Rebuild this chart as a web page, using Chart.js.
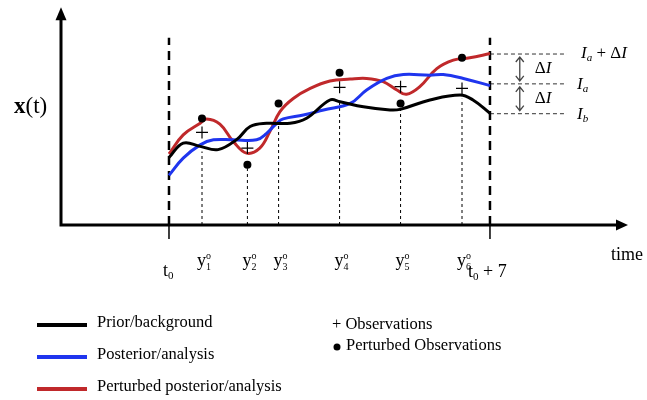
<!DOCTYPE html>
<html>
<head>
<meta charset="utf-8">
<script src="https://cdn.jsdelivr.net/npm/chart.js@4.4.1/dist/chart.umd.min.js"></script>
<style>
  body { margin: 0; background: #fff; }
  canvas { display: block; }
</style>
</head>
<body>
<canvas id="chart" width="647" height="400"></canvas>
<script>
// time is in steps of the window (t0 = 0, t0 + 7 = 7), state x(t) in arbitrary units
const priorT = [0, 0.31, 0.68, 1.07, 1.48, 1.77, 2.13, 2.64, 3.00, 3.51, 3.73, 4.24, 4.82, 5.04, 5.69, 6.35, 6.63, 7];
const priorX = [3.10, 3.76, 3.61, 3.46, 3.93, 4.52, 4.67, 4.67, 4.90, 5.74, 5.66, 5.43, 5.28, 5.31, 5.74, 5.97, 5.74, 5.13];

const postT = [0, 0.31, 0.68, 0.97, 1.40, 1.91, 2.13, 2.35, 2.49, 2.93, 3.37, 3.95, 4.31, 4.75, 5.11, 5.69, 5.98, 6.42, 7];
const postX = [2.28, 3.07, 3.68, 3.91, 3.91, 3.91, 4.21, 4.67, 4.87, 5.05, 5.28, 5.58, 6.20, 6.73, 6.91, 6.88, 6.91, 6.73, 6.40];

const pertT = [0, 0.31, 0.68, 0.82, 1.11, 1.40, 1.69, 1.98, 2.20, 2.42, 2.71, 3.08, 3.51, 3.95, 4.31, 4.67, 4.97, 5.18, 5.47, 5.84, 6.20, 6.56, 7];
const pertX = [3.26, 4.14, 4.67, 4.87, 4.63, 3.84, 3.30, 3.53, 4.29, 5.21, 5.81, 6.27, 6.61, 6.70, 6.73, 6.58, 6.20, 6.00, 6.35, 7.18, 7.57, 7.68, 7.87];

// observation times y1..y6, observations (+) and perturbed observations (dots)
const obsT = [0.72, 1.71, 2.39, 3.72, 5.05, 6.39];
const obsX = [4.25, 3.53, null, 6.32, 6.35, 6.27];
const pertObsX = [4.89, 2.77, 5.58, 6.99, 5.58, 7.68];
const obsGuideTop = [3.38, 2.60, 4.75, 5.66, 5.34, 5.80];

const windowT = [0, 7];
const windowTop = 8.6;

// I_a + dI, I_a, I_b levels at the end of the window
const levels = [7.85, 6.48, 5.11];
const levelEnd = 8.68;

const seriesNames = ['Prior/background', 'Posterior/analysis', 'Perturbed posterior/analysis'];
const seriesColors = ['#000000', '#1f35ee', '#c0292b'];

const zip = (xs, ys) => xs.map((x, i) => ({ x: x, y: ys[i] }));

const datasets = [];
// curves
[[priorT, priorX], [postT, postX], [pertT, pertX]].forEach((s, i) => {
  datasets.push({
    data: zip(s[0], s[1]), showLine: true, borderColor: seriesColors[i], borderWidth: 3,
    pointRadius: 0, tension: 0.4, order: 1
  });
});
// observations
datasets.push({
  data: zip(obsT, obsX), pointStyle: 'cross', pointRadius: 6, borderColor: '#000',
  borderWidth: 1.2, showLine: false, order: 0
});
datasets.push({
  data: zip(obsT, pertObsX), pointStyle: 'circle', pointRadius: 4, backgroundColor: '#000',
  borderColor: '#000', borderWidth: 0, showLine: false, order: 0
});
// guides at observation times
obsT.forEach((t, i) => {
  datasets.push({
    data: [{ x: t, y: 0 }, { x: t, y: obsGuideTop[i] }], showLine: true, borderColor: '#000',
    borderWidth: 1, borderDash: [3, 3], pointRadius: 0, order: 2
  });
});
// window boundaries
windowT.forEach(t => {
  datasets.push({
    data: [{ x: t, y: 0 }, { x: t, y: windowTop }], showLine: true, borderColor: '#000',
    borderWidth: 2.5, borderDash: [9, 6], pointRadius: 0, order: 2
  });
});
// level lines on the right
levels.forEach(l => {
  datasets.push({
    data: [{ x: 7, y: l }, { x: levelEnd, y: l }], showLine: true, borderColor: '#333',
    borderWidth: 1, borderDash: [4, 3], pointRadius: 0, order: 2
  });
});

const SERIF = '"Liberation Serif", "DejaVu Serif", serif';

// draw a run of text pieces [text, font, dy]
function rich(ctx, x, y, parts) {
  ctx.textAlign = 'left';
  ctx.textBaseline = 'middle';
  parts.forEach(p => {
    ctx.font = p[1];
    ctx.fillText(p[0], x, y + (p[2] || 0));
    x += ctx.measureText(p[0]).width;
  });
  return x;
}

function arrowHead(ctx, x, y, dir) {
  ctx.beginPath();
  if (dir === 'up') { ctx.moveTo(x, y); ctx.lineTo(x - 5.5, y + 13); ctx.lineTo(x + 5.5, y + 13); }
  else { ctx.moveTo(x, y); ctx.lineTo(x - 12, y - 5.5); ctx.lineTo(x - 12, y + 5.5); }
  ctx.closePath();
  ctx.fill();
}

const decor = {
  id: 'decor',
  beforeDatasetsDraw(chart) {
    const ctx = chart.ctx, xs = chart.scales.x, ys = chart.scales.y, a = chart.chartArea;
    const ox = a.left, oy = ys.getPixelForValue(0);
    ctx.save();
    ctx.fillStyle = '#000';
    ctx.strokeStyle = '#000';
    ctx.lineWidth = 3;
    ctx.beginPath();
    ctx.moveTo(ox, oy + 1.5); ctx.lineTo(ox, a.top + 10);
    ctx.moveTo(ox - 1.5, oy); ctx.lineTo(a.right - 8, oy);
    ctx.stroke();
    arrowHead(ctx, ox, a.top, 'up');
    arrowHead(ctx, a.right, oy, 'right');
    // ticks at t0 and t0+7
    ctx.lineWidth = 1.5;
    windowT.forEach(t => {
      const px = xs.getPixelForValue(t);
      ctx.beginPath(); ctx.moveTo(px, oy); ctx.lineTo(px, oy + 14); ctx.stroke();
    });
    ctx.restore();
  },
  afterDraw(chart) {
    const ctx = chart.ctx, xs = chart.scales.x, ys = chart.scales.y;
    const oy = ys.getPixelForValue(0);
    ctx.save();
    ctx.fillStyle = '#000';
    const big = '18px ' + SERIF, small = '11px ' + SERIF;

    // axis titles
    rich(ctx, 14, 107, [['x', 'bold 23px ' + SERIF], ['(t)', '23px ' + SERIF]]);
    rich(ctx, 611, oy + 30, [['time', '18px ' + SERIF]]);

    // time labels
    const t0x = xs.getPixelForValue(0), t7x = xs.getPixelForValue(7);
    rich(ctx, t0x - 6, oy + 46, [['t', big], ['0', small, 5]]);
    rich(ctx, t7x - 22, oy + 47, [['t', big], ['0', small, 5], [' + 7', big]]);
    obsT.forEach((t, i) => {
      const px = xs.getPixelForValue(t) + 1;
      ctx.font = big;
      const w = ctx.measureText('y').width;
      rich(ctx, px - 6, oy + 36, [['y', big]]);
      rich(ctx, px - 6 + w, oy + 31, [['o', '10px ' + SERIF]]);
      rich(ctx, px - 6 + w, oy + 42, [[String(i + 1), '10px ' + SERIF]]);
    });

    // level annotations
    const ax = xs.getPixelForValue(7.65);
    ctx.strokeStyle = '#444';
    ctx.lineWidth = 1.3;
    for (let i = 0; i < 2; i++) {
      const y1 = ys.getPixelForValue(levels[i]) + 3, y2 = ys.getPixelForValue(levels[i + 1]) - 3;
      ctx.beginPath(); ctx.moveTo(ax, y1); ctx.lineTo(ax, y2);
      ctx.moveTo(ax - 4, y1 + 5); ctx.lineTo(ax, y1); ctx.lineTo(ax + 4, y1 + 5);
      ctx.moveTo(ax - 4, y2 - 5); ctx.lineTo(ax, y2); ctx.lineTo(ax + 4, y2 - 5);
      ctx.stroke();
    }
    const it = 'italic 17px ' + SERIF, isub = 'italic 11px ' + SERIF, up = '17px ' + SERIF;
    const mid1 = (ys.getPixelForValue(levels[0]) + ys.getPixelForValue(levels[1])) / 2;
    const mid2 = (ys.getPixelForValue(levels[1]) + ys.getPixelForValue(levels[2])) / 2;
    rich(ctx, ax + 15, mid1, [['\u0394', up], ['I', it]]);
    rich(ctx, ax + 15, mid2, [['\u0394', up], ['I', it]]);
    rich(ctx, 581, ys.getPixelForValue(levels[0]), [['I', it], ['a', isub, 4], [' + \u0394', up], ['I', it]]);
    rich(ctx, 577, ys.getPixelForValue(levels[1]) + 1, [['I', it], ['a', isub, 4]]);
    rich(ctx, 577, ys.getPixelForValue(levels[2]) + 1, [['I', it], ['b', isub, 4]]);

    // legend
    const legFont = '16.5px ' + SERIF;
    const legY = [325, 357, 389];
    seriesNames.forEach((n, i) => {
      ctx.fillStyle = seriesColors[i];
      ctx.fillRect(37, legY[i] - 2, 50, 4);
      ctx.fillStyle = '#000';
      rich(ctx, 97, legY[i] - 2, [[n, legFont]]);
    });
    rich(ctx, 332, 325, [['+ Observations', legFont]]);
    ctx.beginPath(); ctx.arc(337, 347, 3.5, 0, Math.PI * 2); ctx.fill();
    rich(ctx, 346, 346, [['Perturbed Observations', legFont]]);
    ctx.restore();
  }
};

new Chart(document.getElementById('chart'), {
  type: 'scatter',
  data: { datasets: datasets },
  options: {
    responsive: false,
    animation: false,
    devicePixelRatio: 1,
    layout: { padding: { left: 61, right: 19, top: 5, bottom: 175 } },
    plugins: { legend: { display: false }, tooltip: { enabled: false } },
    elements: { line: { fill: false } },
    scales: {
      x: { type: 'linear', min: -2.355, max: 10.01, display: false },
      y: { type: 'linear', min: 0, max: 10, display: false }
    }
  },
  plugins: [decor]
});
</script>
</body>
</html>
